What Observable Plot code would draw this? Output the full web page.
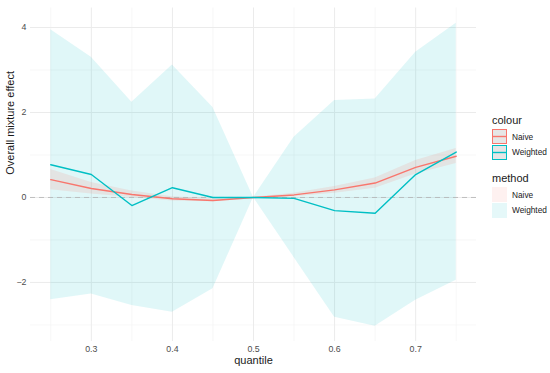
<!DOCTYPE html>
<html>
<head>
<meta charset="utf-8">
<script src="https://cdn.jsdelivr.net/npm/d3@7"></script>
<script src="https://cdn.jsdelivr.net/npm/@observablehq/plot@0.6"></script>
<style>
  html, body { margin: 0; padding: 0; background: #fff; }
  #wrap { position: relative; width: 550px; height: 373px; font-family: "Liberation Sans", Arial, sans-serif; overflow: hidden; }
  #legend { position: absolute; left: 492px; top: 114px; width: 58px; font-size: 8.3px; color: #1a1a1a; white-space: nowrap; }
  .lt { font-size: 11px; margin-bottom: 3px; }
  .row { display: flex; align-items: center; height: 15.5px; }
  .row svg { margin-right: 5px; flex: none; }
</style>
</head>
<body>
<div id="wrap"><div id="chart"></div><div id="legend"></div></div>
<script>
const quantile = [0.25, 0.30, 0.35, 0.40, 0.45, 0.50, 0.55, 0.60, 0.65, 0.70, 0.75];
const naiveEst   = [0.42, 0.21, 0.07, -0.03, -0.07, 0.00, 0.06, 0.18, 0.34, 0.71, 0.97];
const naiveLow   = [0.18, 0.08, 0.00, -0.08, -0.10, 0.00, 0.02, 0.10, 0.22, 0.55, 0.80];
const naiveHigh  = [0.66, 0.35, 0.15, 0.02, -0.03, 0.00, 0.10, 0.26, 0.46, 0.87, 1.15];
const weightedEst  = [0.77, 0.54, -0.19, 0.23, 0.00, 0.00, -0.02, -0.31, -0.37, 0.54, 1.07];
const weightedLow  = [-2.41, -2.27, -2.54, -2.70, -2.15, 0.00, -1.41, -2.82, -3.03, -2.42, -1.95];
const weightedHigh = [3.95, 3.30, 2.24, 3.12, 2.12, 0.00, 1.42, 2.28, 2.32, 3.42, 4.10];
const methods = ["Naive", "Weighted"];
const lineColors = ["#F8766D", "#00BFC4"];
const xTicks = [0.3, 0.4, 0.5, 0.6, 0.7];
const xMinor = [0.25, 0.35, 0.45, 0.55, 0.65, 0.75];
const yTicks = [-2, 0, 2, 4];
const yMinor = [-3, -1, 1, 3];

const rows = [];
quantile.forEach((q, i) => {
  rows.push({q, method: "Naive", est: naiveEst[i], lo: naiveLow[i], hi: naiveHigh[i]});
  rows.push({q, method: "Weighted", est: weightedEst[i], lo: weightedLow[i], hi: weightedHigh[i]});
});
const naiveRows = rows.filter(d => d.method === "Naive");
const weightedRows = rows.filter(d => d.method === "Weighted");

const chart = Plot.plot({
  width: 550,
  height: 373,
  marginLeft: 30,
  marginRight: 74,
  marginTop: 7.5,
  marginBottom: 32,
  style: {fontFamily: "Liberation Sans, Arial, sans-serif", background: "#fff"},
  x: {domain: [0.225, 0.775], ticks: xTicks, tickSize: 0, tickPadding: 4, label: null, tickFormat: d3.format(".1f")},
  y: {domain: [-3.39, 4.46], ticks: yTicks, tickSize: 0, tickPadding: 4, label: null},
  marks: [
    Plot.ruleX(xMinor, {stroke: "#f2f2f2", strokeWidth: 0.6}),
    Plot.ruleY(yMinor, {stroke: "#f2f2f2", strokeWidth: 0.6}),
    Plot.ruleX(xTicks, {stroke: "#ebebeb", strokeWidth: 1}),
    Plot.ruleY(yTicks, {stroke: "#ebebeb", strokeWidth: 1}),
    Plot.areaY(weightedRows, {x: "q", y1: "lo", y2: "hi", fill: "#00BFC4", fillOpacity: 0.12}),
    Plot.areaY(naiveRows, {x: "q", y1: "lo", y2: "hi", fill: "#F8766D", fillOpacity: 0.15}),
    Plot.ruleY([0], {stroke: "#b3b3b3", strokeDasharray: "5,4", strokeWidth: 0.8}),
    Plot.lineY(naiveRows, {x: "q", y: "est", stroke: lineColors[0], strokeWidth: 1.4}),
    Plot.lineY(weightedRows, {x: "q", y: "est", stroke: lineColors[1], strokeWidth: 1.4}),
    Plot.axisX({ticks: xTicks, tickSize: 0, tickPadding: 4, tickFormat: d3.format(".1f"), fill: "#4d4d4d", fontSize: 8.8, label: null}),
    Plot.axisY({ticks: yTicks, tickSize: 0, tickPadding: 4, fill: "#4d4d4d", fontSize: 8.8, label: null}),
    Plot.text(["quantile"], {frameAnchor: "bottom", dy: 22, fontSize: 11, fill: "#1a1a1a"}),
    Plot.text(["Overall mixture effect"], {frameAnchor: "left", dx: -20, rotate: -90, fontSize: 11, fill: "#1a1a1a"})
  ]
});
document.getElementById("chart").appendChild(chart);

const legend = document.getElementById("legend");
function keySvg(inner) {
  return `<svg width="15" height="15" style="display:block">${inner}</svg>`;
}
let html = `<div class="lt">colour</div>`;
methods.forEach((m, i) => {
  html += `<div class="row">${keySvg(`<rect x="0.5" y="0.5" width="14" height="14" fill="#e6e6e6" stroke="${lineColors[i]}" stroke-width="1"/><line x1="0" x2="15" y1="7.5" y2="7.5" stroke="${lineColors[i]}" stroke-width="1.4"/>`)}<span>${m}</span></div>`;
});
html += `<div class="lt" style="margin-top:12px">method</div>`;
const fills = [["#F8766D", 0.1], ["#00BFC4", 0.1]];
methods.forEach((m, i) => {
  html += `<div class="row">${keySvg(`<rect x="0" y="0" width="15" height="15" fill="${fills[i][0]}" fill-opacity="${fills[i][1]}"/>`)}<span>${m}</span></div>`;
});
legend.innerHTML = html;
</script>
</body>
</html>
